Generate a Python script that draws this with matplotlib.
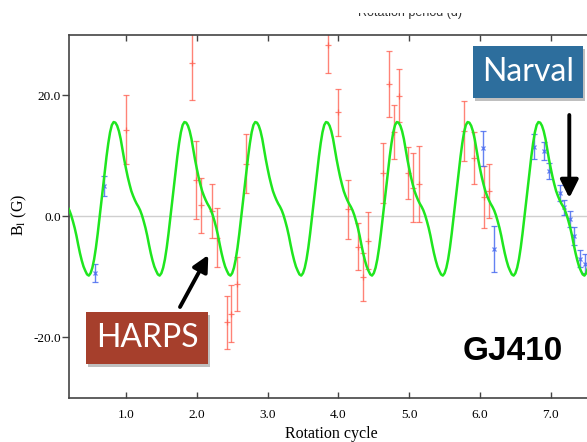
import numpy as np
import matplotlib
matplotlib.use("Agg")
import matplotlib.pyplot as plt
from matplotlib.patches import Rectangle
from matplotlib.transforms import Bbox, TransformedBbox

# -------------------------------------------------------
# Datos
# -------------------------------------------------------
# HARPS (rojo): ciclo, B_l, error
harps_x = [1.00, 1.93, 1.99, 2.065, 2.215, 2.28, 2.42, 2.49, 2.57, 2.70,
           3.85, 4.00, 4.14, 4.28, 4.35, 4.42, 4.63, 4.71, 4.785, 4.856,
           4.99, 5.06, 5.14, 5.77, 5.92, 6.06, 6.13]
harps_y = [14.3, 25.4, 6.0, 1.8, 0.9, -3.5, -17.5, -16.1, -11.2, 8.7,
           28.3, 17.2, 1.15, -5.0, -10.0, -4.0, 7.2, 21.9, 14.0, 19.95,
           7.1, 4.7, 5.4, 14.1, 9.7, 3.2, 4.2]
harps_err = [5.7, 6.2, 6.5, 4.6, 4.4, 4.8, 4.4, 4.7, 4.4, 4.9,
             4.6, 3.9, 4.85, 3.9, 4.0, 4.7, 5.0, 5.4, 4.5, 4.35,
             4.3, 5.7, 6.3, 4.9, 4.3, 5.1, 4.4]

# Narval (azul)
narval_x = [0.56, 0.694, 6.04, 6.20, 6.76, 6.91, 6.98, 7.13, 7.19, 7.27,
            7.33, 7.41, 7.48]
narval_y = [-9.3, 5.0, 11.3, -5.4, 11.5, 10.8, 7.5, 3.9, 1.5, -0.4,
            -3.3, -7.0, -7.8]
narval_err = [1.5, 1.7, 2.9, 3.8, 2.05, 1.5, 1.4, 1.3, 1.2, 1.3,
              1.5, 1.4, 1.5]

# Perfil del modelo en una rotación (fase 0 .. 0.975, paso 0.025)
model_phase_step = 0.025
model_profile = [7.9, 6.5, 5.3, 4.2, 3.4, 2.7, 2.1, 1.6, 1.0, 0.2,
                 -0.8, -1.9, -3.2, -4.7, -6.1, -7.3, -8.3, -9.0, -9.6, -9.8,
                 -9.4, -8.5, -7.1, -5.2, -2.9, -0.4, 2.2, 4.8, 7.4, 9.9,
                 12.1, 13.9, 15.1, 15.6, 15.5, 15.0, 14.1, 12.8, 11.1, 9.4]
n_cycles = 8

xticks = [1.0, 2.0, 3.0, 4.0, 5.0, 6.0, 7.0]
yticks = [-20.0, 0.0, 20.0]

# -------------------------------------------------------
# Figura
# -------------------------------------------------------
plt.rcParams["font.family"] = "Liberation Serif"
plt.rcParams["mathtext.fontset"] = "stix"

W, H = 587, 442
fig = plt.figure(figsize=(W / 100, H / 100), dpi=100)

xmin, xmax = 0.195, 7.6
ax = fig.add_axes([69 / W, 1 - 397.7 / H, (xmax - xmin) * 70.8 / W, (397.7 - 35) / H])

# curva del modelo (perfil repetido cada rotación)
model_x = np.arange(n_cycles * len(model_profile)) * model_phase_step
model_y = np.tile(model_profile, n_cycles)

ax.axhline(0, color="#cfcfcf", lw=1.0, zorder=1)
ax.errorbar(harps_x, harps_y, yerr=harps_err, fmt="+", color="#ff5a4a",
            ecolor="#ff5a4a", alpha=0.75, ms=5, mew=0.9, elinewidth=1.0,
            capsize=2.2, capthick=0.9, zorder=2)
ax.errorbar(narval_x, narval_y, yerr=narval_err, fmt="x", color="#4a6cf0",
            ecolor="#4a6cf0", alpha=0.85, ms=3.5, mew=0.9, elinewidth=1.0,
            capsize=2.2, capthick=0.9, zorder=2)
ax.plot(model_x, model_y, color="#1fe61f", lw=1.8, zorder=3)

ax.set_xlim(xmin, xmax)
ax.set_ylim(-30, 30)
ax.set_xticks(xticks)
ax.set_xticklabels([f"{t:.1f}" for t in xticks])
ax.set_yticks(yticks)
ax.set_yticklabels([f"{t:.1f}" for t in yticks])
ax.tick_params(axis="x", direction="in", top=True, length=4, width=1,
               color="#444444", labelsize=9.5, pad=8)
ax.tick_params(axis="y", direction="out", length=5, width=1,
               color="#444444", labelsize=9.5, pad=1)
for s in ["left", "top", "bottom"]:
    ax.spines[s].set_color("#444444")
    ax.spines[s].set_linewidth(1.2)
ax.spines["right"].set_visible(False)

ax.set_xlabel("Rotation cycle", fontsize=11.5, labelpad=4)
fig.text(19 / W, 1 - 215 / H, r"B$_{\rm l}$ (G)", rotation=90, ha="center",
         va="center", fontsize=11.5)

# título recortado arriba
t = fig.text(410 / W, 1 - 16 / H, "Rotation period (d)", ha="center",
             va="baseline", fontsize=9, color="#333333",
             family="Liberation Sans")
t.set_clip_box(TransformedBbox(Bbox([[0, 0], [1, 1 - 12.5 / H]]), fig.transFigure))
t.set_clip_on(True)

# cajas de anotación
def caja(x0, y0, x1, y1, color, texto):
    sombra = Rectangle((x0 / W + 2 / W, 1 - y1 / H - 3 / H), (x1 - x0) / W,
                       (y1 - y0) / H, transform=fig.transFigure,
                       facecolor="black", alpha=0.25, edgecolor="none")
    fig.add_artist(sombra)
    r = Rectangle((x0 / W, 1 - y1 / H), (x1 - x0) / W, (y1 - y0) / H,
                  transform=fig.transFigure, facecolor=color, edgecolor="none")
    fig.add_artist(r)
    fig.text((x0 + x1) / 2 / W, 1 - (y0 + y1) / 2 / H, texto, ha="center",
             va="center", color="white", fontsize=23, fontweight="normal",
             family=["Lato", "DejaVu Sans"])

caja(86, 312, 208, 364, "#a63f2c", "HARPS")
caja(473, 46, 583, 98, "#2d6e9d", "Narval")

# flechas
ax.annotate("", xy=(208.3, H - 255), xytext=(180, H - 307),
            xycoords="figure pixels", textcoords="figure pixels",
            arrowprops=dict(arrowstyle="-|>", lw=2.8, color="black",
                            mutation_scale=24, shrinkA=0, shrinkB=0))
ax.annotate("", xy=(569.3, H - 198), xytext=(569.3, H - 115),
            xycoords="figure pixels", textcoords="figure pixels",
            arrowprops=dict(arrowstyle="-|>", lw=2.8, color="black",
                            mutation_scale=27, shrinkA=0, shrinkB=0))

fig.text(513 / W, 1 - 352 / H, "GJ410", ha="center", va="center",
         fontsize=24, fontweight="bold", family="Liberation Sans")

fig.savefig("out.png", dpi=100)
